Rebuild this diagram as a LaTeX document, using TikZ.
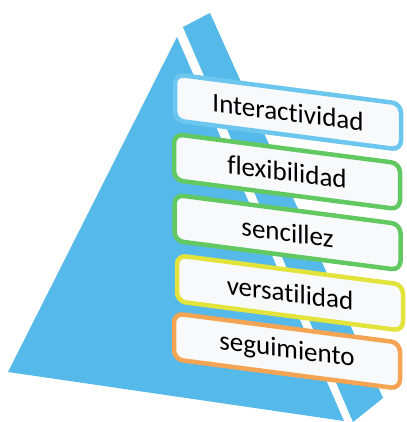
\documentclass[tikz,border=0pt]{standalone}
\usepackage{fontspec}
\setmainfont{Carlito}[RawFeature=-liga]
\begin{document}
\begin{tikzpicture}[x=1pt,y=1pt]
\definecolor{pyr}{HTML}{55B9EA}
\definecolor{cblue}{HTML}{6CC6EE}
\definecolor{cgreen}{HTML}{62C962}
\definecolor{cyellow}{HTML}{E2E43C}
\definecolor{corange}{HTML}{F4A452}
\definecolor{boxfill}{HTML}{F7F9FB}
\tikzset{
  pbox/.style={rounded corners=9, line width=4.5, fill=boxfill,
    minimum width=226, minimum height=46, inner sep=0,
    font=\fontsize{27}{31}\selectfont, transform shape}
}
\useasboundingbox (0,0) rectangle (406,422);
\fill[white] (0,0) rectangle (406,422);
\begin{scope}
  \clip (0,0) rectangle (406,422);
  \fill[pyr] (8,50) -- (177,385) -- (344,1) -- cycle;
  \fill[pyr] (183,395) -- (210,409) -- (383,24) -- (353,0) -- cycle;
\end{scope}
\begin{scope}[yslant=-0.13]
  \node[pbox, draw=cblue]   (b1) at (288,347.4) {Interactividad};
  \node[pbox, draw=cgreen]  (b2) at (287,287.6) {flexibilidad};
  \node[pbox, draw=cgreen]  (b3) at (287.5,226.9) {sencillez};
  \node[pbox, draw=cyellow] (b4) at (290,166.7) {versatilidad};
  \node[pbox, draw=corange] (b5) at (287,108.3) {seguimiento};
\end{scope}
\end{tikzpicture}
\end{document}
